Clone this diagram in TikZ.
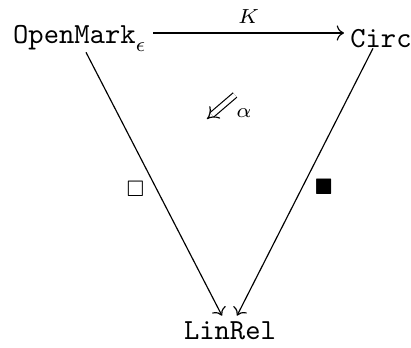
\documentclass[tikz,border=0pt]{standalone}
\usepackage{amssymb}
\usetikzlibrary{cd,calc}
\tikzset{
  obj/.style={inner sep=2pt},
  mor/.style={-{tikzcd to}, line width=0.4pt},
  lbl/.style={inner sep=1pt},
  twocell/.style={double equal sign distance, -{tikzcd implies}, line width=0.4pt}
}
\begin{document}
\begin{tikzpicture}[x=0.343pt, y=-0.343pt]
\useasboundingbox (0,0) rectangle (411,348);
\node[obj] (om) at (80,39) {$\mathtt{OpenMark}_\epsilon$};
\node[obj] (ci) at (381,39) {$\mathtt{Circ}$};
\node[obj] (lr) at (230,331) {$\mathtt{LinRel}$};
\draw[mor] (om.east |- 0,33) -- node[lbl, above=2pt] (k) {$\scriptstyle K$} (ci.west |- 0,33);
\draw[mor] ($(om.south)+(6,-6)$) -- node[lbl, pos=0.52, left=3pt] (sq) {$\scriptstyle\square$} ($(lr.north)+(-8,0)$);
\draw[mor] ($(ci.south)+(-8,-6)$) -- node[lbl, pos=0.52, right=3pt] (bsq) {$\scriptstyle\blacksquare$} ($(lr.north)+(7,0)$);
\coordinate (a1) at (235,95);
\coordinate (a2) at (207,119);
\draw[twocell] (a1) -- (a2);
\node[lbl] (al) at (244,113) {$\scriptstyle\alpha$};
\end{tikzpicture}
\end{document}
